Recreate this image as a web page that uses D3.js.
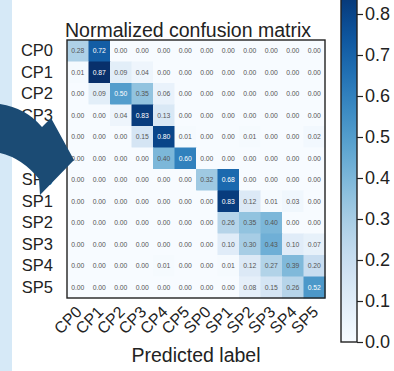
<!DOCTYPE html>
<html><head><meta charset="utf-8">
<script src="https://cdn.jsdelivr.net/npm/d3@7"></script>
<style>
html,body{margin:0;padding:0;background:#fff;}
svg{display:block;font-family:"Liberation Sans",Arial,sans-serif;}
</style></head>
<body>
<svg id="chart" width="394" height="371"></svg>
<script>
const labels = ["CP0","CP1","CP2","CP3","CP4","CP5","SP0","SP1","SP2","SP3","SP4","SP5"];
const rowCP0 = [0.28,0.72,0.00,0.00,0.00,0.00,0.00,0.00,0.00,0.00,0.00,0.00];
const rowCP1 = [0.01,0.87,0.09,0.04,0.00,0.00,0.00,0.00,0.00,0.00,0.00,0.00];
const rowCP2 = [0.00,0.09,0.50,0.35,0.06,0.00,0.00,0.00,0.00,0.00,0.00,0.00];
const rowCP3 = [0.00,0.00,0.04,0.83,0.13,0.00,0.00,0.00,0.00,0.00,0.00,0.00];
const rowCP4 = [0.00,0.00,0.00,0.15,0.80,0.01,0.00,0.00,0.01,0.00,0.00,0.02];
const rowCP5 = [0.00,0.00,0.00,0.00,0.40,0.60,0.00,0.00,0.00,0.00,0.00,0.00];
const rowSP0 = [0.00,0.00,0.00,0.00,0.00,0.00,0.32,0.68,0.00,0.00,0.00,0.00];
const rowSP1 = [0.00,0.00,0.00,0.00,0.00,0.00,0.00,0.83,0.12,0.01,0.03,0.00];
const rowSP2 = [0.00,0.00,0.00,0.00,0.00,0.00,0.00,0.26,0.35,0.40,0.00,0.00];
const rowSP3 = [0.00,0.00,0.00,0.00,0.00,0.00,0.00,0.10,0.30,0.43,0.10,0.07];
const rowSP4 = [0.00,0.00,0.00,0.00,0.01,0.00,0.00,0.01,0.12,0.27,0.39,0.20];
const rowSP5 = [0.00,0.00,0.00,0.00,0.00,0.00,0.00,0.00,0.08,0.15,0.26,0.52];
const colorbarTicks = [0.0,0.1,0.2,0.3,0.4,0.5,0.6,0.7,0.8];
const titleText = "Normalized confusion matrix";
const xLabelText = "Predicted label";

const matrix = [rowCP0,rowCP1,rowCP2,rowCP3,rowCP4,rowCP5,rowSP0,rowSP1,rowSP2,rowSP3,rowSP4,rowSP5];
const cells = [];
matrix.forEach((row,i)=>row.forEach((v,j)=>cells.push({r:labels[i],c:labels[j],v})));
const vmax = d3.max(cells,d=>d.v);

const svg = d3.select("#chart");
// left decoration strip
svg.append("rect").attr("x",0).attr("y",0).attr("width",12).attr("height",371).attr("fill","#d6e9f7");

const M = {x0:67, y0:40, size:258};
const x = d3.scaleBand().domain(labels).range([M.x0, M.x0+M.size]);
const y = d3.scaleBand().domain(labels).range([M.y0, M.y0+M.size]);
const color = d3.scaleSequential(d3.interpolateBlues).domain([0, vmax]);

const g = svg.append("g");
g.selectAll("rect.cell").data(cells).join("rect").attr("class","cell")
  .attr("x",d=>x(d.c)).attr("y",d=>y(d.r))
  .attr("width",x.bandwidth()+0.5).attr("height",y.bandwidth()+0.5)
  .attr("fill",d=>color(d.v));
g.selectAll("text.val").data(cells).join("text").attr("class","val")
  .attr("x",d=>x(d.c)+x.bandwidth()/2).attr("y",d=>y(d.r)+y.bandwidth()/2)
  .attr("text-anchor","middle").attr("dominant-baseline","central")
  .attr("font-size",6.8)
  .attr("fill",d=>d.v>vmax/2?"#ffffff":"#555")
  .text(d=>d.v.toFixed(2));
svg.append("rect").attr("x",M.x0).attr("y",M.y0).attr("width",M.size).attr("height",M.size)
  .attr("fill","none").attr("stroke","#222").attr("stroke-width",1.4);

// y axis labels
const yAxis = d3.axisLeft(y).tickSize(0).tickPadding(14);
const ya = svg.append("g").attr("transform",`translate(${M.x0},0)`).call(yAxis);
ya.select(".domain").remove();
ya.selectAll("text").attr("font-size",16.5).attr("fill","#222").attr("font-family","Liberation Sans, Arial, sans-serif");

// x axis labels (rotated)
const xAxis = d3.axisBottom(x).tickSize(0).tickPadding(0);
const xa = svg.append("g").attr("transform",`translate(0,${M.y0+M.size})`).call(xAxis);
xa.select(".domain").remove();
xa.selectAll("text").attr("font-size",16).attr("fill","#222").attr("font-family","Liberation Sans, Arial, sans-serif")
  .attr("text-anchor","end").attr("dy",null).attr("y",null)
  .attr("transform","translate(5,15) rotate(-45)");

// title and x label
svg.append("text").attr("x",188).attr("y",37).attr("text-anchor","middle")
  .attr("font-size",19.5).attr("fill","#222").text(titleText);
svg.append("text").attr("x",196).attr("y",362).attr("text-anchor","middle")
  .attr("font-size",19.5).attr("fill","#222").text(xLabelText);

// colorbar
const cb = {x:341, w:16};
const cy = d3.scaleLinear().domain([0,0.1]).range([342,301]);
const defs = svg.append("defs");
const grad = defs.append("linearGradient").attr("id","cbg").attr("x1",0).attr("y1",1).attr("x2",0).attr("y2",0);
d3.range(0,1.0001,0.05).forEach(t=>grad.append("stop").attr("offset",t).attr("stop-color",color(t*vmax)));
svg.append("rect").attr("x",cb.x).attr("y",cy(vmax)).attr("width",cb.w).attr("height",cy(0)-cy(vmax))
  .attr("fill","url(#cbg)").attr("stroke","#222").attr("stroke-width",1.4);
const cAxis = d3.axisRight(cy).tickValues(colorbarTicks).tickFormat(d3.format(".1f")).tickSize(6).tickPadding(2);
const ca = svg.append("g").attr("transform",`translate(${cb.x+cb.w},0)`).call(cAxis);
ca.select(".domain").remove();
ca.selectAll("line").attr("stroke","#222").attr("stroke-width",1.2);
ca.selectAll("text").attr("font-size",18).attr("fill","#222").attr("font-family","Liberation Sans, Arial, sans-serif");

// decorative arrow
svg.append("path")
  .attr("d","M0,104 Q26,108 42,127 L51,118 L74,160 L40,195 L39,179 Q22,158 0,153 Z")
  .attr("fill","#1b4b74");
</script>
</body></html>
